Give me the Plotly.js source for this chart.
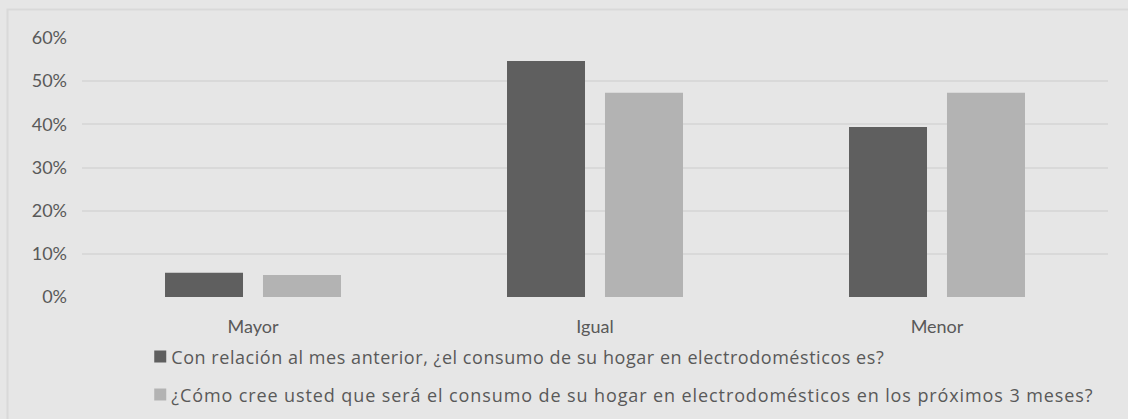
<!DOCTYPE html>
<html>
<head>
<meta charset="utf-8">
<script src="https://cdn.plot.ly/plotly-3.0.1.min.js"></script>
<style>
html,body{margin:0;padding:0;background:#e6e6e6;}
#chart{width:1128px;height:419px;}
#chart .legendpoints{transform:translate(9px,0);}
</style>
</head>
<body>
<div id="chart"></div>
<script>
const categories = ["Mayor", "Igual", "Menor"];
const seriesNames = [
  "Con relación al mes anterior, ¿el consumo de su hogar en electrodomésticos es?",
  "¿Cómo cree usted que será el consumo de su hogar en electrodomésticos en los próximos 3 meses?"
];
const seriesAnterior = [0.056, 0.547, 0.394];
const seriesProximos = [0.051, 0.473, 0.473];
const yTickVals = [0, 0.1, 0.2, 0.3, 0.4, 0.5, 0.6];
const yTickText = ["0%", "10%", "20%", "30%", "40%", "50%", "60%"];

const tickFont = {family: "Lato, 'Open Sans', sans-serif", size: 18, color: "#595959"};
const legendFont = {family: "'Open Sans', Lato, sans-serif", size: 18, color: "#595959"};
const spaced = (t, s) => '<span style="letter-spacing:' + s + 'px">' + t + '</span>';

const traces = [
  {type: "bar", x: categories, y: seriesAnterior, name: spaced(seriesNames[0], 0.55),
   marker: {color: "#5f5f5f"}, legend: "legend", hoverinfo: "skip"},
  {type: "bar", x: categories, y: seriesProximos, name: spaced(seriesNames[1], 0.9),
   marker: {color: "#b3b3b3"}, legend: "legend2", hoverinfo: "skip"}
];

const layout = {
  width: 1128, height: 419,
  paper_bgcolor: "#e6e6e6", plot_bgcolor: "#e6e6e6",
  margin: {l: 82, r: 20, t: 38, b: 122, autoexpand: false},
  font: tickFont,
  barmode: "group", bargap: 0.427, bargroupgap: 0.204,
  xaxis: {showgrid: false, zeroline: false, showline: false, ticks: "",
          tickfont: tickFont, ticklabelstandoff: 17, fixedrange: true},
  yaxis: {range: [0, 0.6], tickvals: yTickVals, ticktext: yTickText,
          showgrid: true, gridcolor: "#d9d9d9", gridwidth: 2, zeroline: false,
          showline: false, ticks: "", tickfont: tickFont, ticklabelstandoff: 14, fixedrange: true},
  showlegend: true,
  legend: {x: 0.048, y: -0.231, xanchor: "left", yanchor: "middle",
           bgcolor: "rgba(0,0,0,0)", font: legendFont},
  legend2: {x: 0.048, y: -0.378, xanchor: "left", yanchor: "middle",
            bgcolor: "rgba(0,0,0,0)", font: legendFont},
  shapes: [{type: "rect", xref: "paper", yref: "paper",
            x0: -0.0726, x1: 1.2, y0: -0.8, y1: 1.110,
            line: {color: "#d9d9d9", width: 2}, fillcolor: "rgba(0,0,0,0)", layer: "below"}]
};

Plotly.newPlot("chart", traces, layout, {staticPlot: true, displayModeBar: false});
</script>
</body>
</html>
